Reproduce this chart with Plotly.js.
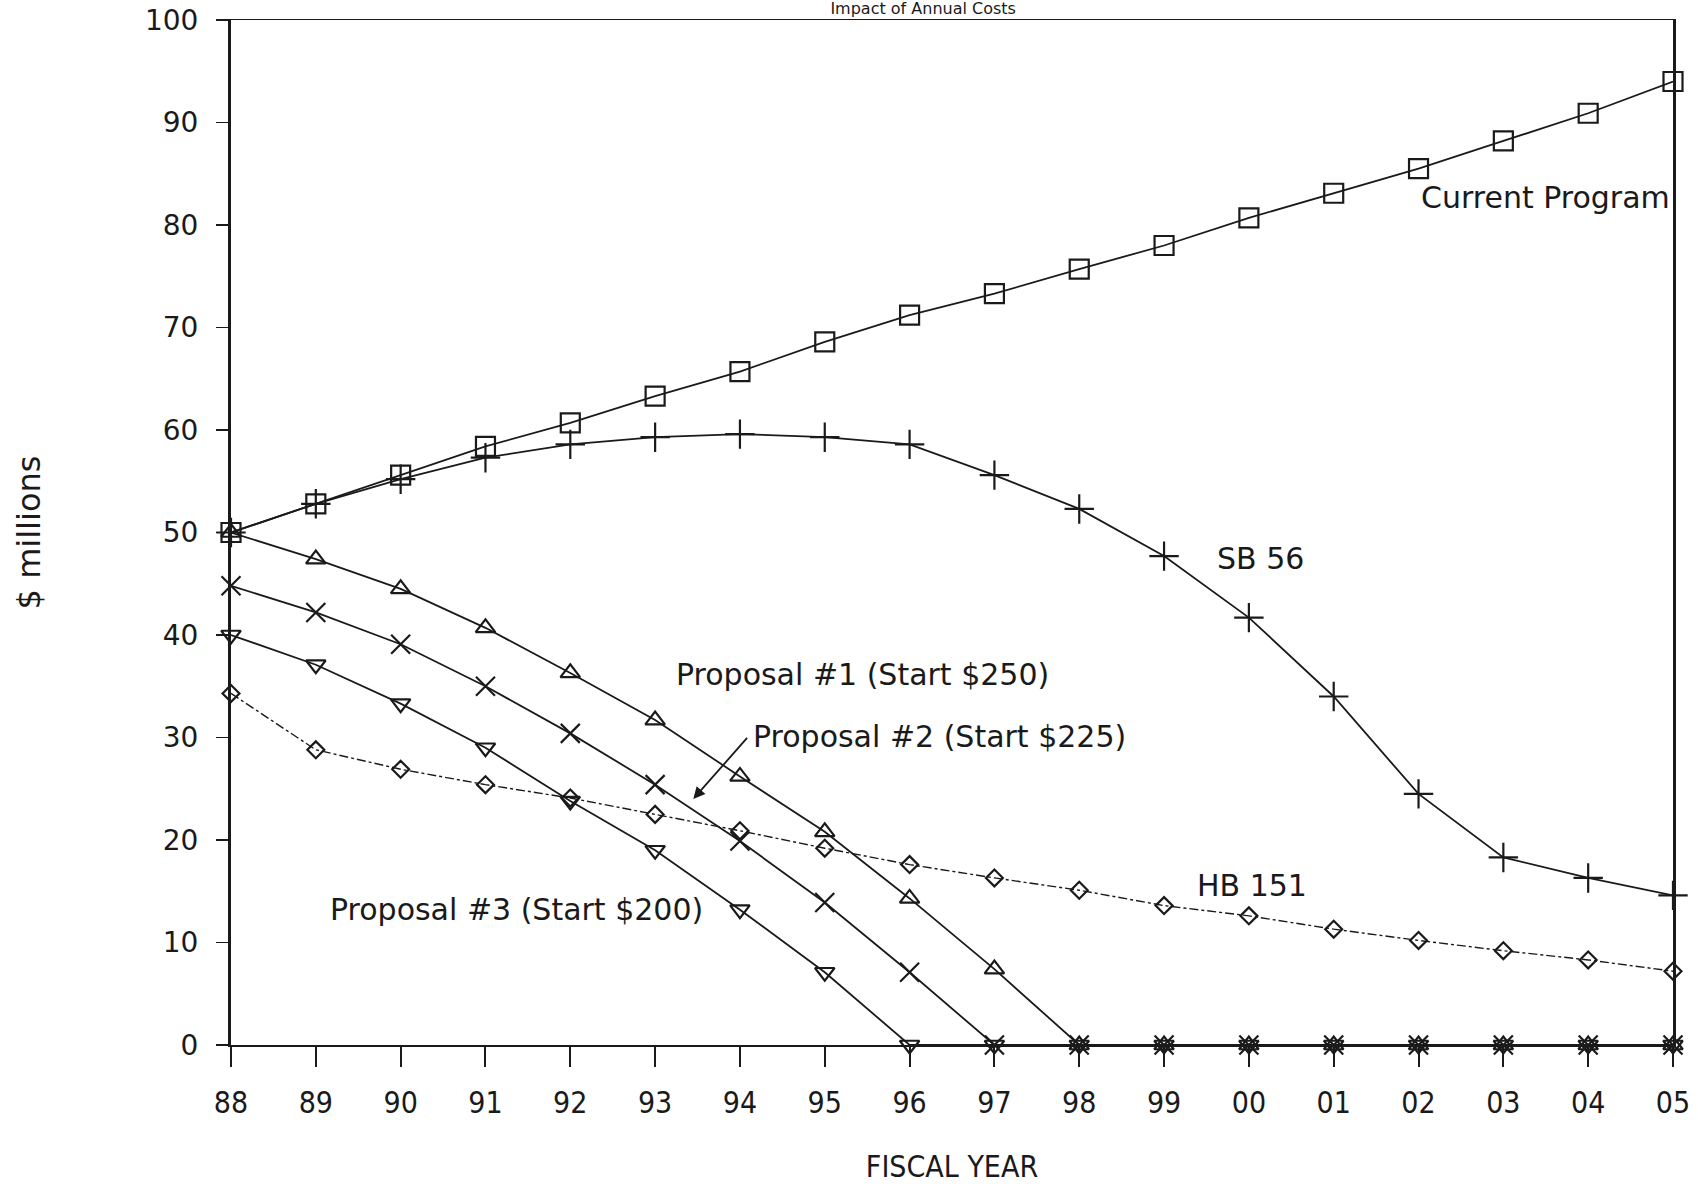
<!DOCTYPE html>
<html>
<head>
<meta charset="utf-8">
<script src="https://cdn.plot.ly/plotly-3.0.1.min.js"></script>
<style>html,body{margin:0;padding:0;background:#fff;}#chart{width:1698px;height:1184px;}</style>
</head>
<body>
<div id="chart"></div>
<script>
const years = ["88","89","90","91","92","93","94","95","96","97","98","99","00","01","02","03","04","05"];
const currentProgram = [50,52.8,55.6,58.4,60.7,63.3,65.7,68.6,71.2,73.3,75.7,78.0,80.7,83.1,85.5,88.2,90.9,94.0];
const sb56 = [50,52.8,55.2,57.3,58.6,59.3,59.6,59.3,58.6,55.6,52.3,47.7,41.7,34.0,24.5,18.3,16.3,14.6];
const proposal1 = [50,47.4,44.5,40.7,36.3,31.7,26.2,20.8,14.3,7.4,0,0,0,0,0,0,0,0];
const proposal2 = [44.8,42.2,39.1,35.0,30.4,25.4,19.9,13.9,7.1,0,0,0,0,0,0,0,0,0];
const proposal3 = [40.0,37.1,33.3,29.0,23.8,19.0,13.2,7.1,0,0,0,0,0,0,0,0,0,0];
const hb151 = [34.3,28.8,26.9,25.4,24.1,22.5,20.9,19.2,17.6,16.3,15.1,13.6,12.6,11.3,10.2,9.2,8.3,7.2];
const yTicks = [0,10,20,30,40,50,60,70,80,90,100];

const ink = '#1a1a1a';
function tr(y, sym, size, dash, w){
  return {x: years, y: y, type:'scatter', mode:'lines+markers', cliponaxis:false,
    line:{color:ink, width:w||1.8, dash:dash||'solid'},
    marker:{symbol:sym, size:size, color:ink, line:{color:ink, width:2.2}}};
}
const data = [
  tr(hb151,'diamond-open',13,'dashdot',1.4),
  tr(proposal3,'triangle-down-open',17),
  tr(proposal2,'x-thin-open',19),
  tr(proposal1,'triangle-up-open',17),
  tr(sb56,'cross-thin-open',21),
  tr(currentProgram,'square-open',19)
];
const afont = {family:'DejaVu Sans, Liberation Sans, sans-serif', size:30, color:ink};
function ann(text, xi, y, extra){
  return Object.assign({x:xi, y:y, xref:'x', yref:'y', text:text, showarrow:false, xanchor:'left', yanchor:'middle', font:afont}, extra||{});
}
const condensed = 'DejaVu Sans Condensed, Liberation Sans Narrow, sans-serif';
const layout = {
  width:1698, height:1184,
  margin:{l:231, r:25, t:20, b:139},
  paper_bgcolor:'#fff', plot_bgcolor:'#fff',
  showlegend:false,
  title:{text:'Impact of Annual Costs', xref:'paper', x:0.48, xanchor:'center', yref:'container', y:0.9975, yanchor:'top', pad:{t:0},
    font:{family:'DejaVu Sans, sans-serif', size:16, color:ink}},
  xaxis:{type:'category', range:[0,17], showgrid:false, zeroline:false,
    showline:true, linecolor:ink, linewidth:1.5, mirror:true,
    ticks:'outside', ticklen:20, tickwidth:2, tickcolor:ink, ticklabelstandoff:10,
    tickfont:{family:condensed, size:30, color:ink},
    title:{text:'FISCAL YEAR', standoff:42, font:{family:condensed, size:30, color:ink}}},
  yaxis:{range:[0,100], tickvals:yTicks, ticktext:yTicks.map(String), showgrid:false, zeroline:false,
    showline:true, linecolor:ink, linewidth:3, mirror:true,
    ticks:'outside', ticklen:12, tickwidth:1.5, tickcolor:ink, ticklabelstandoff:12,
    tickfont:{family:'DejaVu Sans, sans-serif', size:28, color:ink},
    title:{text:'$ millions', standoff:95, font:{family:'DejaVu Sans, sans-serif', size:32, color:ink}}},
  annotations:[
    ann('Current Program', 14.0, 82.7),
    ann('SB 56', 11.6, 47.5),
    ann('Proposal #1 (Start $250)', 5.22, 36.1),
    ann('Proposal #2 (Start $225)', 6.13, 30.1),
    ann('Proposal #3 (Start $200)', 1.14, 13.2),
    ann('HB 151', 11.36, 15.6),
    {x:5.45, y:24.0, xref:'x', yref:'y', ax:6.1, ay:30.1, axref:'x', ayref:'y', text:'', showarrow:true,
     arrowhead:2, arrowsize:1.3, arrowwidth:1.8, arrowcolor:ink}
  ]
};
Plotly.newPlot('chart', data, layout, {displayModeBar:false, staticPlot:true});
</script>
</body>
</html>
